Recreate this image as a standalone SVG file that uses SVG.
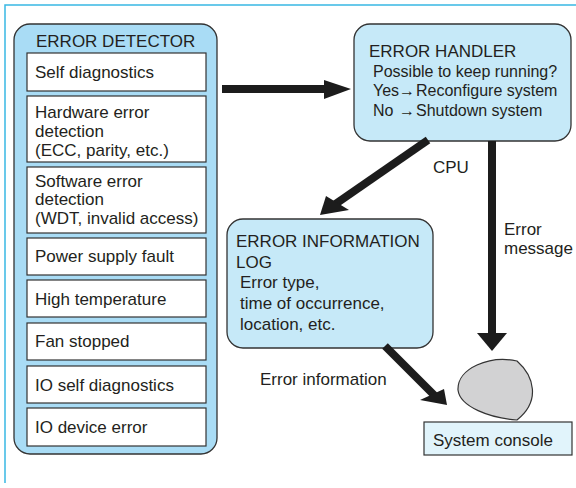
<svg xmlns="http://www.w3.org/2000/svg" width="576" height="488" viewBox="0 0 576 488">
  <style>
    text { font-family: "Liberation Sans", Arial, sans-serif; font-size: 17px; fill: #231f20; }
    .sub { font-size: 16px; }
    .panel { fill: #a9dcf5; stroke: #333; stroke-width: 1.3; }
    .soft { fill: #c6e9f8; stroke: #333; stroke-width: 1.3; }
    .item { fill: #ffffff; stroke: #333; stroke-width: 1.2; }
    .shaft { stroke: #1c1c1c; stroke-width: 8; fill: none; }
    .head { fill: #1c1c1c; }
  </style>

  <rect width="576" height="488" fill="#ffffff"/>
  <!-- frame -->
  <path d="M5,483 V5 H576" fill="none" stroke="#38b8e4" stroke-width="1.5"/>

  <g id="error-detector">
    <rect class="panel" x="14" y="24" width="203" height="430" rx="16"/>
    <text x="36" y="47">ERROR DETECTOR</text>
    <rect class="item" x="27" y="53" width="179" height="38"/>
    <text x="35" y="78">Self diagnostics</text>
    <rect class="item" x="27" y="96" width="179" height="66"/>
    <text x="35" y="118">Hardware error</text>
    <text x="35" y="137">detection</text>
    <text x="35" y="156">(ECC, parity, etc.)</text>
    <rect class="item" x="27" y="167" width="179" height="66"/>
    <text x="35" y="187">Software error</text>
    <text x="35" y="205">detection</text>
    <text x="35" y="224">(WDT, invalid access)</text>
    <rect class="item" x="27" y="238" width="179" height="37"/>
    <text x="35" y="262">Power supply fault</text>
    <rect class="item" x="27" y="280" width="179" height="37"/>
    <text x="35" y="305">High temperature</text>
    <rect class="item" x="27" y="323" width="179" height="37"/>
    <text x="35" y="347">Fan stopped</text>
    <rect class="item" x="27" y="366" width="179" height="37"/>
    <text x="35" y="391">IO self diagnostics</text>
    <rect class="item" x="27" y="408" width="179" height="38"/>
    <text x="35" y="433">IO device error</text>
  </g>

  <g id="error-handler">
    <rect class="soft" x="354" y="24" width="217" height="117" rx="16"/>
    <text x="369" y="57">ERROR HANDLER</text>
    <text class="sub" x="373" y="77">Possible to keep running?</text>
    <text class="sub" x="373" y="96">Yes<tspan x="399">→</tspan><tspan x="416">Reconfigure system</tspan></text>
    <text class="sub" x="373" y="116">No<tspan x="399">→</tspan><tspan x="416">Shutdown system</tspan></text>
  </g>

  <g id="error-information-log">
    <rect class="soft" x="227" y="219" width="206" height="129" rx="16"/>
    <text x="236" y="247">ERROR INFORMATION</text>
    <text x="236" y="268">LOG</text>
    <text x="240" y="288">Error type,</text>
    <text x="240" y="309">time of occurrence,</text>
    <text x="240" y="330">location, etc.</text>
  </g>

  <g id="system-console">
    <path d="M517,361 C534,376 541,401 517,420 C490,418 460,407 458,390 C457,368 490,355 517,361 Z" fill="#d2d2d3" stroke="#333" stroke-width="1.2"/>
    <rect x="424" y="422" width="148" height="33" fill="#e1f4fb" stroke="#333" stroke-width="1.2"/>
    <text x="433" y="446">System console</text>
  </g>

  <g id="connectors">
    <!-- detector to handler -->
    <line class="shaft" x1="222" y1="89" x2="326" y2="89"/>
    <polygon class="head" points="324,80 351,89 324,99"/>
    <!-- handler to log -->
    <line class="shaft" x1="428" y1="140" x2="334" y2="205"/>
    <polygon class="head" points="320,215 326,196 349,210"/>
    <text x="433" y="173">CPU</text>
    <!-- handler to console -->
    <line class="shaft" x1="492" y1="141" x2="492" y2="334"/>
    <polygon class="head" points="477,333 507,333 492,351"/>
    <text x="504" y="235">Error</text>
    <text x="504" y="254">message</text>
    <!-- log to console -->
    <line class="shaft" x1="385" y1="346" x2="436" y2="397"/>
    <polygon class="head" points="447,405 420,400 444,389"/>
    <text x="260" y="385">Error information</text>
  </g>
</svg>
